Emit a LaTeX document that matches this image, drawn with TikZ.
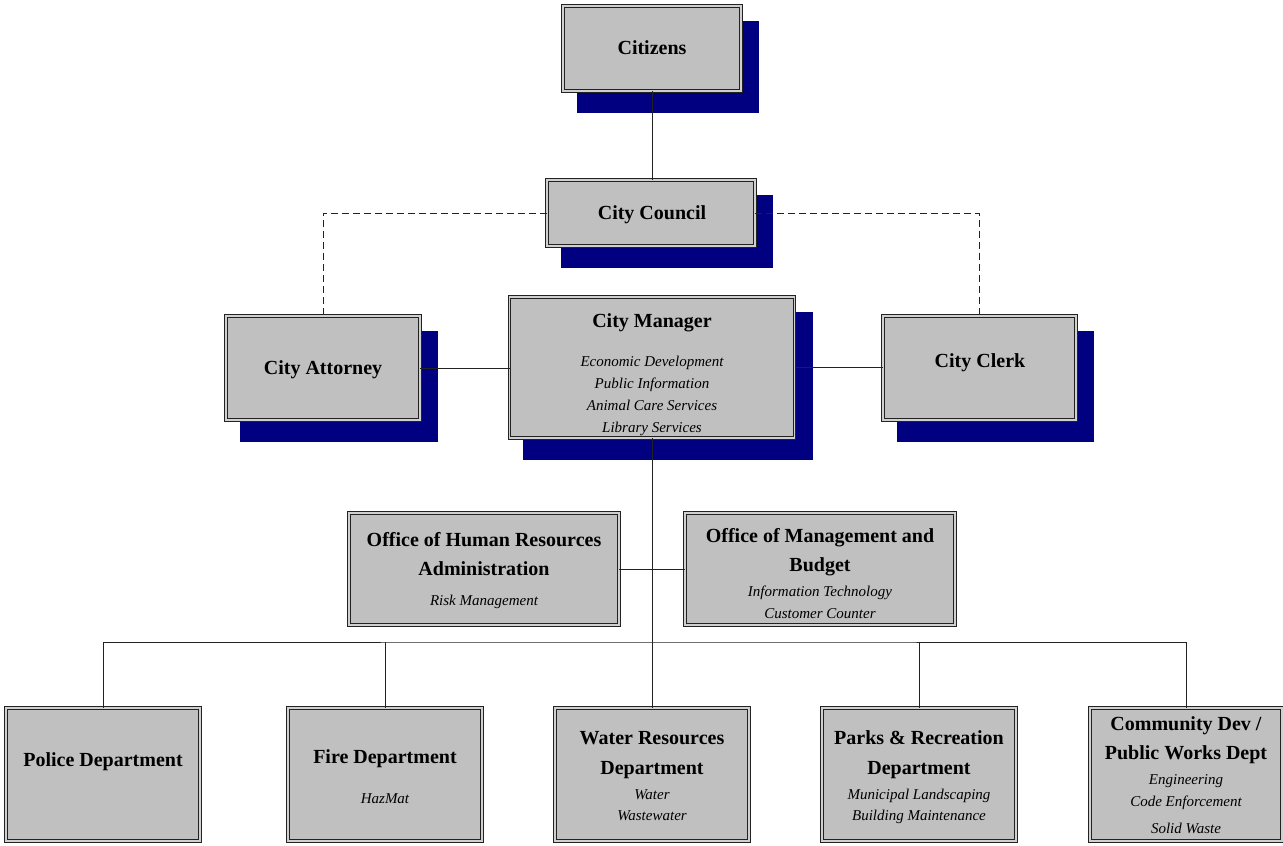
\documentclass[tikz,border=0pt]{standalone}
\usepackage{fontspec}
\setmainfont{Liberation Serif}
\usetikzlibrary{calc,backgrounds}
\definecolor{boxgray}{HTML}{C0C0C0}
\definecolor{gapgray}{HTML}{D0D0D0}
\definecolor{shnavy}{HTML}{000080}
\definecolor{edge}{HTML}{222222}
\tikzset{
  box/.style={draw=edge, double=gapgray, double distance=1.6pt, line width=1.1pt, fill=boxgray, inner sep=0pt, outer sep=0pt},
  shadowfill/.style={fill=shnavy},
  ttl/.style={font=\bfseries\fontsize{20}{24}\selectfont, inner sep=0pt, text height=13.2pt, text depth=0pt},
  sub/.style={font=\itshape\fontsize{15}{18}\selectfont, inner sep=0pt, text height=10pt, text depth=0pt},
  conn/.style={draw=edge, line width=1pt},
  dconn/.style={draw=edge, line width=1pt, dash pattern=on 7pt off 4pt}
}
\begin{document}
\begin{tikzpicture}[x=1pt,y=-1pt]
\useasboundingbox (0,0) rectangle (1283,846);
% boxes
\node[box,minimum width=178pt,minimum height=85pt] (cit) at (652,48.5) {};
\node[box,minimum width=208pt,minimum height=66pt] (cou) at (651,213) {};
\node[box,minimum width=194pt,minimum height=104pt] (att) at (323,368) {};
\node[box,minimum width=285pt,minimum height=141pt] (mgr) at (652,367.5) {};
\node[box,minimum width=193pt,minimum height=104pt] (clk) at (979.5,368) {};
\node[box,minimum width=270pt,minimum height=112pt] (hr) at (484,569) {};
\node[box,minimum width=270pt,minimum height=112pt] (omb) at (820,569) {};
\node[box,minimum width=194pt,minimum height=133pt] (pol) at (103,774.5) {};
\node[box,minimum width=194pt,minimum height=133pt] (fire) at (385,774.5) {};
\node[box,minimum width=194pt,minimum height=133pt] (wat) at (652,774.5) {};
\node[box,minimum width=194pt,minimum height=133pt] (park) at (919,774.5) {};
\node[box,minimum width=192pt,minimum height=133pt] (com) at (1186,774.5) {};
% shadows
\begin{scope}[on background layer]
\foreach \n in {cit,cou,att,mgr,clk}
  \fill[shadowfill] ($(\n.north west)+(13.5,15)$) rectangle ($(\n.south east)+(18,21.5)$);
\end{scope}
% connectors
\coordinate (bus) at (652,642);
\draw[conn] (cit.south) -- (cit.south |- cou.north);
\draw[dconn] (cou.west) -| (att.north);
\draw[dconn] (cou.east) -| (clk.north);
\draw[conn] (att.east) -- (att.east -| mgr.west);
\draw[conn] (mgr.east) -- (mgr.east -| clk.west);
\draw[conn] (mgr.south) -- (wat.north);
\draw[conn] (hr.east) -- (omb.west);
\draw[conn] (pol.north) |- (bus) -| (com.north);
\draw[conn] (fire.north) -- (fire.north |- bus);
\draw[conn] (park.north) -- (park.north |- bus);
% texts
\node[ttl] (tcit) at (652,48) {Citizens};
\node[ttl] (tcou) at (652,213) {City Council};
\node[ttl] (tatt) at (323,368) {City Attorney};
\node[ttl] (tmgr) at (652,321) {City Manager};
\node[sub] (m1) at (652,361) {Economic Development};
\node[sub] (m2) at (652,383) {Public Information};
\node[sub] (m3) at (652,405) {Animal Care Services};
\node[sub] (m4) at (652,427) {Library Services};
\node[ttl] (tclk) at (980,361) {City Clerk};
\node[ttl] (thr1) at (484,540) {Office of Human Resources};
\node[ttl] (thr2) at (484,569) {Administration};
\node[sub] (hr1) at (484,600) {Risk Management};
\node[ttl] (tomb1) at (820,536) {Office of Management and};
\node[ttl] (tomb2) at (820,565) {Budget};
\node[sub] (omb1) at (820,591) {Information Technology};
\node[sub] (omb2) at (820,613) {Customer Counter};
\node[ttl] (tpol) at (103,760) {Police Department};
\node[ttl] (tfire) at (385,757) {Fire Department};
\node[sub] (fire1) at (385,798) {HazMat};
\node[ttl] (twat1) at (652,738) {Water Resources};
\node[ttl] (twat2) at (652,768) {Department};
\node[sub] (wat1) at (652,794) {Water};
\node[sub] (wat2) at (652,815) {Wastewater};
\node[ttl] (tpark1) at (919,738) {Parks \& Recreation};
\node[ttl] (tpark2) at (919,768) {Department};
\node[sub] (park1) at (919,794) {Municipal Landscaping};
\node[sub] (park2) at (919,815) {Building Maintenance};
\node[ttl] (tcom1) at (1186,724) {Community Dev /};
\node[ttl] (tcom2) at (1186,753) {Public Works Dept};
\node[sub] (com1) at (1186,779) {Engineering};
\node[sub] (com2) at (1186,801) {Code Enforcement};
\node[sub] (com3) at (1186,828) {Solid Waste};
\end{tikzpicture}
\end{document}
